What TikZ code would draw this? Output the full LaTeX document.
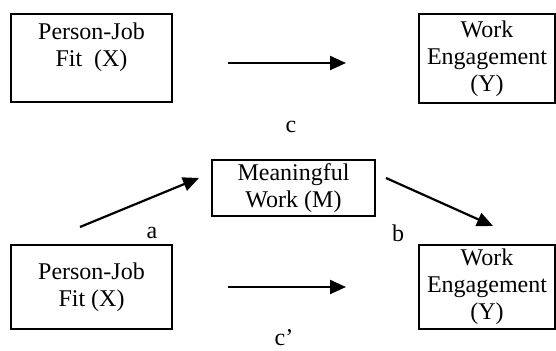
\documentclass[tikz,border=0pt]{standalone}
\usepackage{fontspec}
\setmainfont{Liberation Serif}
\usetikzlibrary{arrows.meta}
\usetikzlibrary{positioning}

\tikzset{
  varbox/.style={draw=black, line width=0.9pt, inner sep=0pt, align=center,
                 font=\fontsize{12}{13.5}\selectfont},
  effect/.style={-{Triangle[length=8pt,width=7pt]}, line width=1.1pt},
  coef/.style={inner sep=0pt, font=\fontsize{12}{13.5}\selectfont}
}

\begin{document}
\begin{tikzpicture}[x=0.5pt,y=-0.5pt]
    \useasboundingbox (0,0) rectangle (556,351);

    %%% Total effect %%%
    \node[varbox, minimum width=80.5pt, minimum height=44pt] (fitA) at (91.5,58) {Person-Job\\Fit\ \ (X)\\~};
    \node[varbox, minimum width=68pt, minimum height=44.5pt] (engA) at (487,58.5) {Work\\Engagement\\(Y)};
    \coordinate (cS) at (228,63);
    \coordinate (cE) at (346,63);
    \draw[effect] (cS) -- (cE);
    \node[coef] (cLab) at (291,127) {c};

    %%% Mediated effect %%%
    \node[varbox, minimum width=81.5pt, minimum height=28pt] (mean) at (293.5,188) {Meaningful\\Work (M)};
    \node[varbox, minimum width=80.5pt, minimum height=42pt] (fitB) at (91.5,287) {Person-Job\\Fit (X)};
    \node[varbox, minimum width=68pt, minimum height=42pt] (engB) at (487,287) {Work\\Engagement\\(Y)};
    % a path
    \coordinate (aS) at (80,227);
    \coordinate (aE) at (199,178);
    \draw[effect] (aS) -- (aE);
    \node[coef] (aLab) at (152,233) {a};
    % b path
    \coordinate (bS) at (386,178);
    \coordinate (bE) at (493,226);
    \draw[effect] (bS) -- (bE);
    \node[coef] (bLab) at (398,233) {b};
    % direct path
    \coordinate (dS) at (228,287);
    \coordinate (dE) at (346,287);
    \draw[effect] (dS) -- (dE);
    \node[coef] (dLab) at (284,338) {c'};
\end{tikzpicture}
\end{document}
